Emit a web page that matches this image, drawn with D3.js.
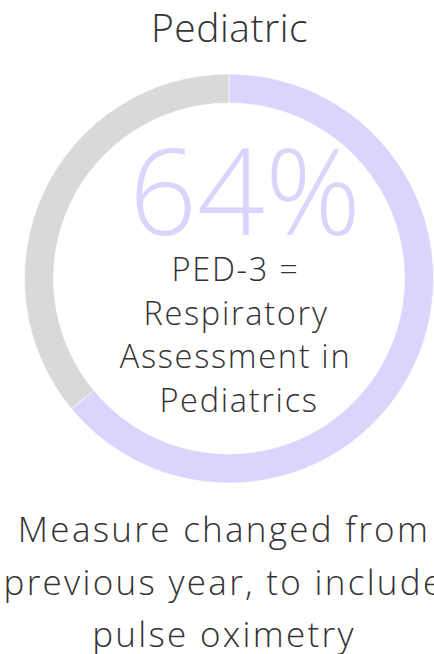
<!DOCTYPE html>
<html>
<head>
<meta charset="utf-8">
<script src="https://cdn.jsdelivr.net/npm/d3@7"></script>
<style>
  body { margin: 0; background: #fff; }
  svg text { font-family: "Open Sans", sans-serif; font-weight: 350; }
</style>
</head>
<body>
<div id="chart"></div>
<script>
// chart data
var title = "Pediatric";
var segments = ["Met", "Not met"];
var values = [64, 36];
var centerLabel = ["PED-3 =", "Respiratory", "Assessment in", "Pediatrics"];
var footnote = ["Measure changed from", "previous year, to include", "pulse oximetry"];

var width = 434, height = 654;
var cx = 229, cy = 278.5;
var outerR = 204.5, innerR = 175.5;
var purple = "#d9d5fc", grey = "#d9d9d9", textColor = "#333333";

var svg = d3.select("#chart")
  .append("svg")
  .attr("width", width)
  .attr("height", height);

svg.append("text")
  .attr("x", 229.5)
  .attr("y", 41.5)
  .attr("text-anchor", "middle")
  .style("font-size", "39px")
  .style("letter-spacing", "0.5px")
  .style("fill", textColor)
  .text(title);

var color = d3.scaleOrdinal().domain(segments).range([purple, grey]);

var pie = d3.pie().sort(null).value(d => d.value);
var arc = d3.arc().innerRadius(innerR).outerRadius(outerR);

var data = segments.map((s, i) => ({key: s, value: values[i]}));

var g = svg.append("g")
  .attr("transform", `translate(${cx},${cy})`);

g.selectAll("path")
  .data(pie(data))
  .join("path")
  .attr("d", arc)
  .attr("fill", d => color(d.data.key))
  .attr("stroke", "#fff")
  .attr("stroke-width", 0.6);

// big percentage
var total = d3.sum(values);
g.append("text")
  .attr("x", 16)
  .attr("y", 235 - cy)
  .attr("text-anchor", "middle")
  .style("font-size", "119px")
  .style("fill", purple)
  .text(d3.format(".0%")(values[0] / total));

// label inside ring
var labelX = [235.5, 236, 235.5, 239];
g.selectAll("text.label")
  .data(centerLabel)
  .join("text")
  .attr("class", "label")
  .attr("x", (d, i) => labelX[i] - cx)
  .attr("y", (d, i) => 281 + i * 43.7 - cy)
  .attr("text-anchor", "middle")
  .style("font-size", "32.5px")
  .style("letter-spacing", "1.7px")
  .style("fill", textColor)
  .text(d => d);

// note under chart
svg.selectAll("text.note")
  .data(footnote)
  .join("text")
  .attr("class", "note")
  .attr("x", 224)
  .attr("y", (d, i) => 542.3 + i * 52.4)
  .attr("text-anchor", "middle")
  .style("font-size", "35px")
  .style("letter-spacing", "2.3px")
  .style("fill", textColor)
  .text(d => d);
</script>
</body>
</html>
